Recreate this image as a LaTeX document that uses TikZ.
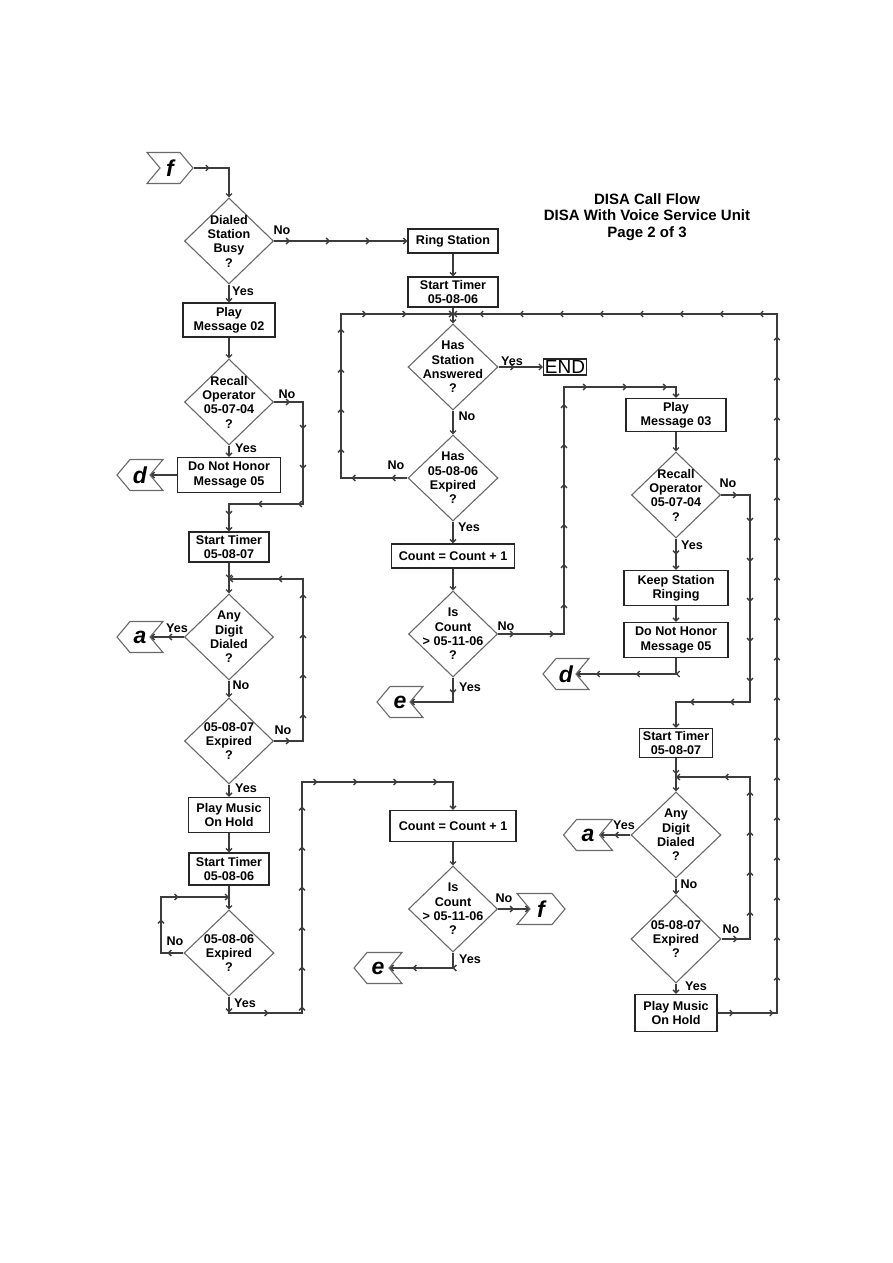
\documentclass[tikz,border=0pt]{standalone}
\usepackage{fontspec}
\setmainfont{Liberation Sans}
\usetikzlibrary{shapes.geometric,shapes.symbols,arrows.meta,decorations.markings}
\definecolor{linegray}{RGB}{60,60,60}
\definecolor{diagray}{RGB}{105,105,105}
\begin{document}
\begin{tikzpicture}[x=1pt,y=-1pt,line join=miter,
  font=\fontsize{12.6}{14.3}\selectfont\bfseries,
  box/.style={draw=black!85,line width=1.4pt,align=center,inner sep=1pt},
  decide/.style={diamond,draw=diagray,line width=1.1pt,align=center,inner sep=-14pt,minimum width=89,minimum height=86},
  goright/.style={signal,signal to=east,signal from=west,signal pointer angle=100,draw=diagray,line width=1.1pt,
    minimum width=46,minimum height=31,inner sep=0pt,font=\fontsize{23}{23}\selectfont\bfseries\itshape},
  goleft/.style={goright,signal to=west,signal from=east},
  flow/.style={draw=linegray,line width=1.3pt,-{Straight Barb[length=3pt,width=6pt]},
    postaction={decorate},decoration={markings,
      mark=between positions 16pt and -12pt step 40pt with {\arrow{Straight Barb[length=3pt,width=6pt]}}}},
  lbl/.style={inner sep=0pt}]
  \useasboundingbox (0,0) rectangle (893,1263);

  \node[align=center,font=\fontsize{15}{16.5}\selectfont\bfseries] (title) at (647,217)
    {DISA Call Flow\\DISA With Voice Service Unit\\Page 2 of 3};

  % left column
  \node[goright] (cf1) at (170,168) {f};
  \node[decide] (busy) at (229,241) {Dialed\\Station\\Busy\\?};
  \node[box,minimum width=92,minimum height=34] (msg02) at (229,320) {Play\\Message 02};
  \node[decide] (recall1) at (229,402) {Recall\\Operator\\05-07-04\\?};
  \node[box,minimum width=103,minimum height=35] (honor1) at (229,475) {Do Not Honor\\Message 05};
  \node[goleft] (cd1) at (140,475) {d};
  \node[box,minimum width=80,minimum height=30] (timer7a) at (229,547) {Start Timer\\05-08-07};
  \node[decide] (digit1) at (229,637) {Any\\Digit\\Dialed\\?};
  \node[goleft] (ca1) at (140,637) {a};
  \node[decide] (exp7a) at (229,741) {05-08-07\\Expired\\?};
  \node[box,minimum width=81,minimum height=35] (music1) at (229,815) {Play Music\\On Hold};
  \node[box,minimum width=80,minimum height=32] (timer6a) at (229,869) {Start Timer\\05-08-06};
  \node[decide,minimum width=90] (exp6a) at (229,953) {05-08-06\\Expired\\?};

  % middle column
  \node[box,minimum width=90,minimum height=24] (ring) at (453,241) {Ring Station};
  \node[box,minimum width=90,minimum height=30] (timer6b) at (453,292) {Start Timer\\05-08-06};
  \node[decide,minimum width=90] (answered) at (453,367) {Has\\Station\\Answered\\?};
  \node[draw=black!85,line width=1.2pt,inner sep=1.5pt,font=\fontsize{19}{19}\selectfont] (endbox) at (565,367) {END};
  \node[decide,minimum width=90] (exp6b) at (453,478) {Has\\05-08-06\\Expired\\?};
  \node[box,minimum width=123,minimum height=24] (count1) at (453,556) {Count = Count + 1};
  \node[decide] (iscount1) at (453,634) {Is\\Count\\> 05-11-06\\?};
  \node[goleft] (ce1) at (400,702) {e};
  \node[box,minimum width=126,minimum height=31] (count2) at (453,826) {Count = Count + 1};
  \node[decide] (iscount2) at (453,909) {Is\\Count\\> 05-11-06\\?};
  \node[goright,minimum width=48] (cf2) at (541,909) {f};
  \node[goleft,minimum width=48] (ce2) at (378,968) {e};

  % right column
  \node[box,minimum width=100,minimum height=33] (msg03) at (676,415) {Play\\Message 03};
  \node[decide] (recall2) at (676,495) {Recall\\Operator\\05-07-04\\?};
  \node[box,minimum width=104,minimum height=35] (keep) at (676,588) {Keep Station\\Ringing};
  \node[box,minimum width=104,minimum height=35] (honor2) at (676,640) {Do Not Honor\\Message 05};
  \node[goleft] (cd2) at (566,674) {d};
  \node[box,minimum width=73,minimum height=29] (timer7b) at (676,743) {Start Timer\\05-08-07};
  \node[decide,minimum width=90] (digit2) at (676,835) {Any\\Digit\\Dialed\\?};
  \node[goleft,minimum width=49] (ca2) at (588,835) {a};
  \node[decide,minimum width=90,minimum height=88] (exp7b) at (676,939) {05-08-07\\Expired\\?};
  \node[box,minimum width=82,minimum height=37] (music2) at (676,1013) {Play Music\\On Hold};

  % bends
  \coordinate (r1c) at (303,504);
  \coordinate (l7r) at (303,579);
  \coordinate (l7j) at (229,579);
  \coordinate (l6r) at (161,897);
  \coordinate (l6j) at (229,897);
  \coordinate (b1) at (302,1013);
  \coordinate (b2) at (302,782);
  \coordinate (t1) at (341,314);
  \coordinate (top6b) at (453,314);
  \coordinate (t2) at (777,314);
  \coordinate (m1) at (564,387);
  \coordinate (r2c) at (750,702);
  \coordinate (l7br) at (750,777);
  \coordinate (l7bj) at (676,777);

  \draw[flow] (cf1.east) -| (busy.north);
  \draw[flow] (busy.east) -- (ring.west);
  \draw[flow] (busy.south) -- (msg02.north);
  \draw[flow] (msg02.south) -- (recall1.north);
  \draw[flow] (recall1.south) -- (honor1.north);
  \draw[flow] (honor1.west) -- (cd1.east);
  \draw[flow] (recall1.east) -| (r1c) -| (timer7a.north);
  \draw[flow] (timer7a.south) -- (digit1.north);
  \draw[flow] (digit1.west) -- (ca1.east);
  \draw[flow] (digit1.south) -- (exp7a.north);
  \draw[flow] (exp7a.east) -| (l7r) -- (l7j);
  \draw[flow] (exp7a.south) -- (music1.north);
  \draw[flow] (music1.south) -- (timer6a.north);
  \draw[flow] (timer6a.south) -- (exp6a.north);
  \draw[flow] (exp6a.west) -| (l6r) -- (l6j);
  \draw[flow] (exp6a.south) |- (b1) -- (b2) -| (count2.north);

  \draw[flow] (ring.south) -- (timer6b.north);
  \draw[flow] (timer6b.south) -- (answered.north);
  \draw[flow] (answered.east) -- (endbox.west);
  \draw[flow] (answered.south) -- (exp6b.north);
  \draw[flow] (exp6b.west) -| (t1) -- (top6b);
  \draw[flow] (exp6b.south) -- (count1.north);
  \draw[flow] (count1.south) -- (iscount1.north);
  \draw[flow] (iscount1.east) -| (m1) -| (msg03.north);
  \draw[flow] (iscount1.south) |- (ce1.east);
  \draw[flow] (count2.south) -- (iscount2.north);
  \draw[flow] (iscount2.east) -- (cf2.west);
  \draw[flow] (iscount2.south) |- (ce2.east);

  \draw[flow] (msg03.south) -- (recall2.north);
  \draw[flow] (recall2.south) -- (keep.north);
  \draw[flow] (keep.south) -- (honor2.north);
  \draw[flow] (honor2.south) |- (cd2.east);
  \draw[flow] (recall2.east) -| (r2c) -| (timer7b.north);
  \draw[flow] (timer7b.south) -- (digit2.north);
  \draw[flow] (digit2.west) -- (ca2.east);
  \draw[flow] (digit2.south) -- (exp7b.north);
  \draw[flow] (exp7b.east) -| (l7br) -- (l7bj);
  \draw[flow] (exp7b.south) -- (music2.north);
  \draw[flow] (music2.east) -| (t2) -- (top6b);

  % yes / no
  \node[lbl] (busyno) at (282,230) {No};
  \node[lbl] (busyyes) at (243,291) {Yes};
  \node[lbl] (r1no) at (287,394) {No};
  \node[lbl] (r1yes) at (246,448) {Yes};
  \node[lbl] (d1yes) at (177,628) {Yes};
  \node[lbl] (d1no) at (241,685) {No};
  \node[lbl] (e7ano) at (283,730) {No};
  \node[lbl] (e7ayes) at (246,788) {Yes};
  \node[lbl] (e6ano) at (175,941) {No};
  \node[lbl] (e6ayes) at (245,1003) {Yes};
  \node[lbl] (ansyes) at (512,361) {Yes};
  \node[lbl] (ansno) at (467,416) {No};
  \node[lbl] (e6bno) at (396,465) {No};
  \node[lbl] (e6byes) at (469,527) {Yes};
  \node[lbl] (c1no) at (506,626) {No};
  \node[lbl] (c1yes) at (470,687) {Yes};
  \node[lbl] (c2no) at (504,898) {No};
  \node[lbl] (c2yes) at (470,959) {Yes};
  \node[lbl] (r2no) at (728,483) {No};
  \node[lbl] (r2yes) at (692,545) {Yes};
  \node[lbl] (d2yes) at (624,825) {Yes};
  \node[lbl] (d2no) at (689,884) {No};
  \node[lbl] (e7bno) at (731,929) {No};
  \node[lbl] (e7byes) at (696,986) {Yes};
\end{tikzpicture}
\end{document}
